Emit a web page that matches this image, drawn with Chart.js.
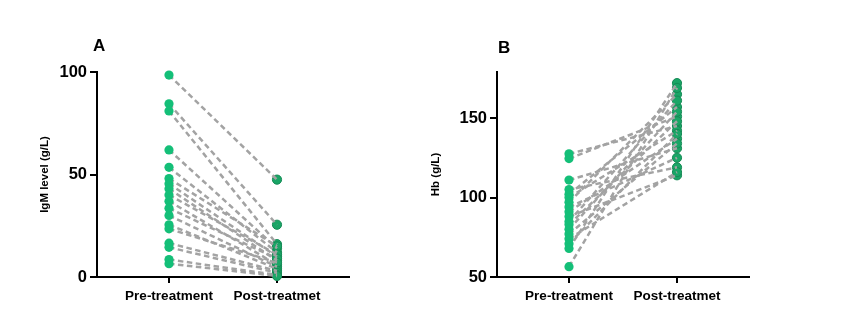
<!DOCTYPE html>
<html>
<head>
<meta charset="utf-8">
<script src="https://cdn.jsdelivr.net/npm/chart.js@4.4.1/dist/chart.umd.min.js"></script>
<style>
  html, body { margin: 0; padding: 0; background: #fff; }
  #wrap { position: relative; width: 865px; height: 323px; overflow: hidden; }
  .panel { position: absolute; top: 0; height: 323px; }
  #panelA { left: 0; width: 432px; }
  #panelB { left: 400px; width: 465px; }
</style>
</head>
<body>
<div id="wrap">
  <div class="panel" id="panelA"><canvas id="chartA" width="432" height="323"></canvas></div>
  <div class="panel" id="panelB"><canvas id="chartB" width="465" height="323"></canvas></div>
</div>
<script>
// x categories
const categories = ['Pre-treatment', 'Post-treatmet'];

// panel A - IgM level (g/L), one pair per patient
const igmPre  = [98.5, 84.5, 81, 62, 53.5, 48, 45.5, 43, 40, 37, 33.5, 30, 25.5, 23.5, 16.5, 14.5, 8.5, 6.5];
const igmPost = [47.5, 25.5, 16, 14, 12, 15, 10, 8, 11, 6, 9, 5, 4, 7, 3, 2, 1, 0.5];
const igmTicks = [0, 50, 100];

// panel B - Hb (g/L)
const hbPre  = [127.5, 124.5, 111, 105, 102, 100, 97, 94, 91, 88, 85, 83, 80, 77, 74, 71, 68, 56.5];
const hbPost = [145, 151, 131, 119, 157, 142, 165, 125, 137, 114, 161, 148, 154, 134, 116, 140, 172, 169];
const hbTicks = [50, 100, 150];

const FONT = '"Liberation Sans", Arial, sans-serif';
const preColor = '#14bf78';
const postColor = '#1aa566';
const postBorder = '#158a55';
const lineColor = '#a3a3a3';

// draws the panel letter (A / B)
const panelLetter = {
    id: 'panelLetter',
    afterDraw(chart, args, opts) {
        const ctx = chart.ctx;
        ctx.save();
        ctx.font = 'bold 17px ' + FONT;
        ctx.fillStyle = '#000';
        ctx.textBaseline = 'alphabetic';
        ctx.fillText(opts.text, opts.x, opts.y);
        ctx.restore();
    }
};

function makeChart(canvasId, letter, letterX, letterY, yTitle, pre, post, ticks, yMin, yMax, padLeft, padRight) {
    let datasets = [];

    // pre points on top
    datasets.push({
        data: pre.map(v => ({ x: 1, y: v })),
        showLine: false,
        pointRadius: 4.6,
        pointBackgroundColor: preColor,
        pointBorderColor: preColor,
        pointBorderWidth: 0,
        clip: false,
        order: 0
    });

    // dashed connecting lines
    pre.forEach((v, i) => {
        datasets.push({
            data: [{ x: 1, y: v }, { x: 2, y: post[i] }],
            showLine: true,
            borderColor: lineColor,
            borderWidth: 2.5,
            borderDash: [5.5, 3.5],
            pointRadius: 0,
            clip: false,
            order: 1
        });
    });

    // post points underneath the lines
    datasets.push({
        data: post.map(v => ({ x: 2, y: v })),
        showLine: false,
        pointRadius: 4.6,
        pointBackgroundColor: postColor,
        pointBorderColor: postBorder,
        pointBorderWidth: 1,
        clip: false,
        order: 2
    });

    return new Chart(document.getElementById(canvasId), {
        type: 'scatter',
        data: { datasets: datasets },
        plugins: [panelLetter],
        options: {
            responsive: false,
            animation: false,
            layout: { padding: { left: padLeft, top: 72, right: padRight, bottom: 0 } },
            plugins: {
                legend: { display: false },
                tooltip: { enabled: false },
                panelLetter: { text: letter, x: letterX, y: letterY }
            },
            scales: {
                x: {
                    type: 'linear',
                    min: 1 / 3,
                    max: 8 / 3,
                    afterBuildTicks: s => { s.ticks = [{ value: 1 }, { value: 2 }]; },
                    ticks: {
                        callback: v => categories[Math.round(v) - 1],
                        font: { family: FONT, size: 13.5, weight: 'bold' },
                        color: '#000',
                        padding: 5,
                        maxRotation: 0,
                        autoSkip: false
                    },
                    grid: { display: true, drawOnChartArea: false, drawTicks: true, tickLength: 6, color: '#000', lineWidth: 2 },
                    border: { display: true, color: '#000', width: 2 },
                    afterFit: s => { s.height = 46; }
                },
                y: {
                    type: 'linear',
                    min: yMin,
                    max: yMax,
                    afterBuildTicks: s => { s.ticks = ticks.map(t => ({ value: t })); },
                    ticks: {
                        font: { family: FONT, size: 16.5, weight: 'bold' },
                        color: '#000',
                        padding: 3
                    },
                    grid: { display: true, drawOnChartArea: false, drawTicks: true, tickLength: 7, color: '#000', lineWidth: 2 },
                    border: { display: true, color: '#000', width: 2 },
                    title: {
                        display: true,
                        text: yTitle,
                        font: { family: FONT, size: 11.5, weight: 'bold' },
                        color: '#000',
                        padding: { top: 4, bottom: 0 }
                    },
                    afterFit: s => { s.width = 97 - padLeft; }
                }
            }
        }
    });
}

// chart area: x 97..349, y 72..277 in each canvas
let chartA = makeChart('chartA', 'A', 93, 51, 'IgM level (g/L)', igmPre, igmPost, igmTicks, 0, 100, 34, 83);
let chartB = makeChart('chartB', 'B', 98, 53, 'Hb (g/L)', hbPre, hbPost, hbTicks, 50, 179, 25, 116);
</script>
</body>
</html>
